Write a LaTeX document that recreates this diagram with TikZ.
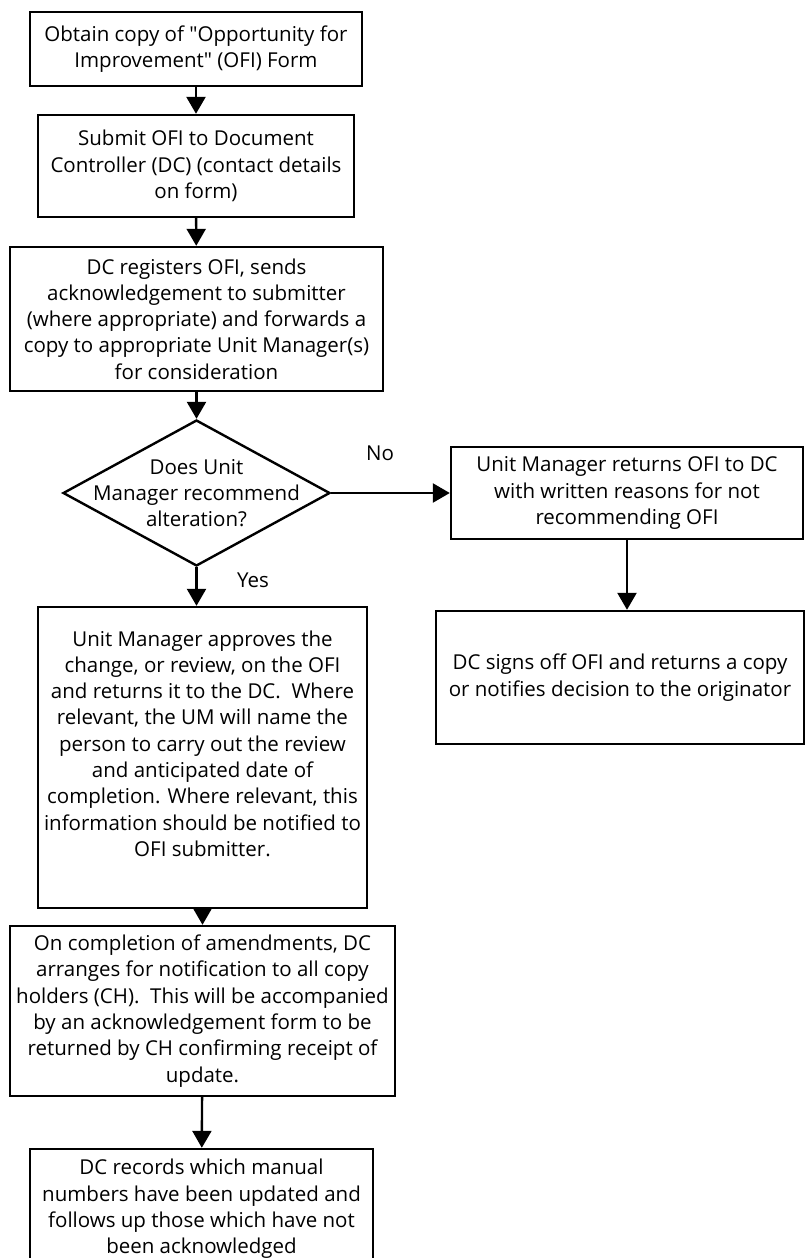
\documentclass[tikz,border=0pt]{standalone}
\usepackage{fontspec}
\setmainfont{Open Sans}
\usetikzlibrary{shapes.geometric,arrows.meta}
\begin{document}
\begin{tikzpicture}[x=1pt,y=-1pt,
  every node/.style={font=\fontsize{20.5}{26.3}\selectfont},
  box/.style={draw,line width=2.4pt,align=center,inner sep=0pt},
  lbl/.style={inner sep=0pt},
  conn/.style={line width=2.4pt,-{Triangle[length=17pt,width=19pt]}}]
\useasboundingbox (0,0) rectangle (805,1258);
\clip (0,0) rectangle (805,1258);
\node[box,minimum width=332,minimum height=74] (b1) at (196,49)
  {Obtain copy of \textquotedbl Opportunity for\\Improvement\textquotedbl{} (OFI) Form};
\node[box,minimum width=316,minimum height=102] (b2) at (196,166)
  {Submit OFI to Document\\Controller (DC) (contact details\\on form)};
\node[box,minimum width=373,minimum height=144] (b3) at (196.5,319)
  {DC registers OFI, sends\\acknowledgement to submitter\\(where appropriate) and forwards a\\copy to appropriate Unit Manager(s)\\for consideration};
\node[draw,line width=2.4pt,diamond,inner sep=0pt,minimum width=267,minimum height=146] (d) at (196.5,493) {};
\node[lbl,align=center] (dt) at (d.center) {Does Unit\\Manager recommend\\alteration?};
\node[box,minimum width=352,minimum height=92] (r1) at (627,493)
  {Unit Manager returns OFI to DC\\with written reasons for not\\recommending OFI};
\node[box,minimum width=368,minimum height=133] (r2) at (620,677.5)
  {DC signs off OFI and returns a copy\\or notifies decision to the originator};
\node[box,minimum width=329,minimum height=301,text depth=28pt] (b4) at (202.5,757.5)
  {Unit Manager approves the\\change, or review, on the OFI\\and returns it to the DC.~ Where\\relevant, the UM will name the\\person to carry out the review\\and anticipated date of\\completion. Where relevant, this\\information should be notified to\\OFI submitter.};
\node[box,minimum width=385,minimum height=170] (b5) at (202.5,1011)
  {On completion of amendments, DC\\arranges for notification to all copy\\holders (CH).~ This will be accompanied\\by an acknowledgement form to be\\returned by CH confirming receipt of\\update.};
\node[box,minimum width=343,minimum height=120] (b6) at (201.5,1209)
  {DC records which manual\\numbers have been updated and\\follows up those which have not\\been acknowledged};
\node[lbl] (no) at (380,453) {No};
\node[lbl] (yes) at (253,580) {Yes};
\draw[conn] (b1) -- (b2);
\draw[conn] (b2) -- (b3);
\draw[conn] (b3) -- (d);
\draw[conn] (d.east) -- (r1.west);
\draw[conn] (r1) -- (r2.north -| r1);
\draw[conn] (d.south) -- (b4.north -| d.south);
\draw[conn] (b4) -- (b5);
\draw[conn] (b5) -- (b6);
\end{tikzpicture}
\end{document}
